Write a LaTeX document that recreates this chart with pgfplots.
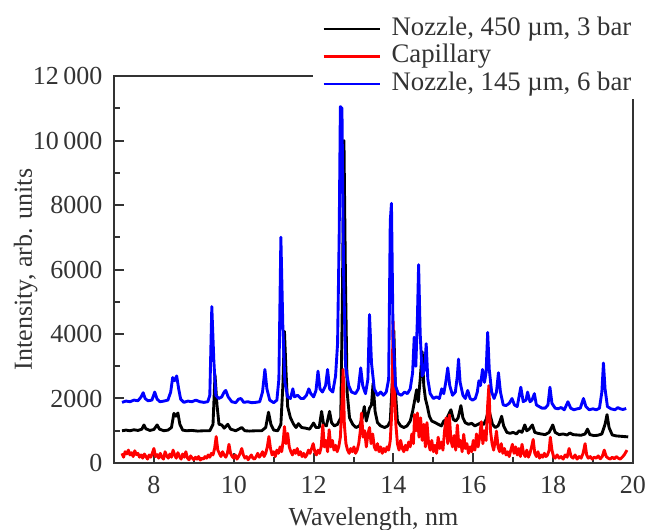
\documentclass[border=0pt]{standalone}
\usepackage{fontspec}
\setmainfont{Liberation Serif}
\usepackage{pgfplots}
\pgfplotsset{compat=1.18}

\definecolor{axgray}{RGB}{51,51,51}

\begin{document}
\fontsize{10.4}{12}\selectfont
\begin{tikzpicture}[font=\fontsize{10.4}{12}\selectfont]
\useasboundingbox (-45.6pt,-26.8pt) rectangle (214.8pt,185.2pt);
\begin{axis}[
  at={(0,0)}, anchor=south west,
  scale only axis,
  width=207.6pt, height=154.8pt,
  xmin=7, xmax=20, ymin=0, ymax=12000,
  xtick={8,10,...,20}, ytick={0,2000,...,12000},
  minor x tick num=1, minor y tick num=1,
  tick pos=left, tick align=inside,
  major tick length=4pt, minor tick length=2.5pt,
  axis line style={axgray, line width=1pt},
  tick style={axgray, line width=0.8pt},
  scaled y ticks=false,
  /pgf/number format/assume math mode=true,
  yticklabel style={/pgf/number format/1000 sep={\,},
    /pgf/number format/min exponent for 1000 sep=4, xshift=-1pt},
  tick label style={text=axgray},
  xticklabel style={yshift=-1.5pt},
  xlabel={Wavelength, nm},
  ylabel={Intensity, arb. units},
  xlabel style={at={(axis description cs:0.5,-0.162)}, anchor=base, text=axgray},
  ylabel style={at={(axis description cs:-0.158,0.5)}, anchor=base, text=axgray},
  legend cell align=left,
  legend style={at={(rel axis cs:1.017,1.163)}, anchor=north east, fill=white, draw=none,
    inner xsep=4pt, inner ysep=1pt, row sep=0.6pt, column sep=4pt, text=axgray,
    font=\fontsize{10.7}{12}\selectfont,
    nodes={inner sep=0pt, text height=0.75em, text depth=0.25em}},
  legend image code/.code={\draw[#1, line width=0.9pt] (0pt,0pt) -- (22.7pt,0pt);},
  every axis plot/.append style={line width=1.15pt, line join=round},
]

% Nozzle, 450 um, 3 bar
\addplot[black] coordinates {
(7.20,1000) (7.30,1020) (7.40,1000) (7.50,1030) (7.60,1010) (7.70,1050) (7.75,1180) (7.80,1060)
(7.90,1010) (8.00,1040) (8.08,1180) (8.14,1050) (8.25,1000) (8.35,1020) (8.44,1100) (8.50,1540)
(8.55,1450) (8.60,1550) (8.65,1200) (8.72,1020) (8.82,1000) (8.95,1010) (9.10,990) (9.25,1000)
(9.40,1000) (9.48,1200) (9.53,2730) (9.58,1800) (9.63,1200) (9.70,1180) (9.76,1080) (9.85,1200)
(9.92,1050) (10.05,1000) (10.20,1100) (10.28,1000) (10.40,990) (10.55,1000) (10.70,1000) (10.80,1100)
(10.87,1575) (10.93,1200) (11.00,1020) (11.10,1000) (11.18,1200) (11.23,2400) (11.27,4080) (11.31,2800)
(11.35,1750) (11.42,1400) (11.50,1200) (11.56,1100) (11.62,1220) (11.70,1100) (11.80,1080) (11.90,1050)
(12.00,1240) (12.06,1100) (12.14,1100) (12.20,1600) (12.25,1200) (12.32,1150) (12.40,1600) (12.45,1250)
(12.52,1150) (12.60,1200) (12.68,1400) (12.72,5000) (12.76,10000) (12.80,5500) (12.84,2200) (12.90,1400)
(12.98,1200) (13.06,1100) (13.15,1150) (13.22,1400) (13.27,1750) (13.32,1300) (13.40,1700) (13.45,1800)
(13.49,2470) (13.54,1600) (13.60,1250) (13.68,1150) (13.78,1100) (13.86,1150) (13.92,1300) (13.97,2500)
(14.01,4100) (14.05,2200) (14.10,1300) (14.18,1150) (14.26,1100) (14.34,1150) (14.42,1300) (14.48,1600)
(14.54,2000) (14.58,2270) (14.62,1900) (14.67,2600) (14.72,3450) (14.76,2400) (14.80,2000) (14.85,1750)
(14.90,1450) (14.96,1300) (15.05,1250) (15.12,1200) (15.20,1150) (15.26,1300) (15.32,1350) (15.38,1500)
(15.44,1650) (15.50,1350) (15.56,1300) (15.62,1400) (15.69,1780) (15.74,1400) (15.80,1250) (15.88,1200)
(15.96,1230) (16.04,1150) (16.12,1200) (16.20,1250) (16.26,1200) (16.32,1350) (16.38,1650) (16.42,1500)
(16.48,1200) (16.55,1100) (16.62,1150) (16.67,1300) (16.71,1450) (16.76,1150) (16.84,950) (16.92,920)
(17.00,950) (17.08,900) (17.15,1000) (17.22,950) (17.29,1180) (17.34,1000) (17.40,1050) (17.48,1180)
(17.54,950) (17.62,920) (17.70,900) (17.80,880) (17.90,950) (17.99,1180) (18.05,950) (18.15,880)
(18.25,900) (18.35,870) (18.42,930) (18.50,880) (18.60,870) (18.70,860) (18.80,900) (18.86,1050)
(18.92,880) (19.02,850) (19.12,860) (19.22,900) (19.30,1200) (19.35,1500) (19.40,1100) (19.48,870)
(19.58,840) (19.68,830) (19.78,820) (19.88,810)
};
\addlegendentry{Nozzle, 450 µm, 3 bar}

% Capillary
\addplot[red] coordinates {
(7.20,300) (7.24,180) (7.28,350) (7.32,280) (7.36,400) (7.40,250) (7.44,320) (7.48,200)
(7.52,380) (7.56,260) (7.60,300) (7.64,180) (7.68,250) (7.72,150) (7.76,280) (7.80,200)
(7.84,120) (7.88,250) (7.92,180) (7.96,300) (8.00,450) (8.04,200) (8.08,260) (8.12,150)
(8.16,300) (8.20,180) (8.24,120) (8.28,350) (8.32,220) (8.36,150) (8.40,280) (8.44,180)
(8.48,400) (8.52,250) (8.56,150) (8.60,320) (8.64,200) (8.68,120) (8.72,280) (8.76,180)
(8.80,350) (8.84,150) (8.88,100) (8.92,220) (8.96,150) (9.00,100) (9.04,180) (9.08,120)
(9.12,200) (9.16,90) (9.20,150) (9.24,120) (9.28,200) (9.32,150) (9.36,250) (9.40,180)
(9.44,300) (9.48,250) (9.52,450) (9.56,820) (9.60,400) (9.64,300) (9.68,200) (9.72,350)
(9.76,250) (9.80,180) (9.84,300) (9.88,580) (9.92,300) (9.96,200) (10.00,150) (10.04,250)
(10.08,120) (10.12,200) (10.16,300) (10.20,450) (10.24,250) (10.28,150) (10.32,200) (10.36,100)
(10.40,180) (10.44,250) (10.48,150) (10.52,120) (10.56,200) (10.60,300) (10.64,180) (10.68,250)
(10.72,350) (10.76,200) (10.80,300) (10.84,500) (10.88,820) (10.92,450) (10.96,250) (11.00,350)
(11.04,200) (11.08,400) (11.12,300) (11.16,500) (11.20,350) (11.24,700) (11.27,1130) (11.31,600)
(11.35,920) (11.39,500) (11.43,350) (11.47,250) (11.51,400) (11.55,300) (11.59,450) (11.63,250)
(11.67,350) (11.71,200) (11.75,300) (11.79,180) (11.83,250) (11.87,400) (11.91,300) (11.95,450)
(11.99,600) (12.03,350) (12.07,250) (12.11,400) (12.15,300) (12.19,500) (12.23,1180) (12.27,500)
(12.31,700) (12.35,350) (12.39,1030) (12.43,500) (12.47,700) (12.51,400) (12.55,550) (12.59,350)
(12.63,500) (12.67,800) (12.71,1800) (12.74,2900) (12.77,1200) (12.81,600) (12.85,400) (12.89,300)
(12.93,450) (12.97,350) (13.01,500) (13.05,300) (13.09,400) (13.13,600) (13.17,1000) (13.20,1550)
(13.24,800) (13.28,1000) (13.32,500) (13.36,900) (13.40,1100) (13.44,600) (13.48,900) (13.52,500)
(13.56,400) (13.60,600) (13.64,350) (13.68,500) (13.72,300) (13.76,450) (13.80,350) (13.84,500)
(13.88,400) (13.92,700) (13.96,1600) (13.99,4400) (14.02,2500) (14.06,1200) (14.10,600) (14.14,400)
(14.18,700) (14.22,450) (14.26,350) (14.30,550) (14.34,400) (14.38,650) (14.42,500) (14.46,900)
(14.50,600) (14.53,1500) (14.57,1000) (14.60,1550) (14.64,800) (14.68,1400) (14.72,700) (14.76,1200)
(14.80,500) (14.84,1250) (14.88,600) (14.92,400) (14.96,700) (15.00,350) (15.04,550) (15.08,300)
(15.12,800) (15.16,450) (15.20,650) (15.24,400) (15.28,1000) (15.32,1400) (15.36,600) (15.40,1490)
(15.44,700) (15.48,500) (15.52,850) (15.56,400) (15.60,1180) (15.64,500) (15.68,700) (15.72,350)
(15.76,890) (15.80,450) (15.84,600) (15.88,300) (15.92,500) (15.96,350) (16.00,700) (16.04,400)
(16.08,900) (16.12,500) (16.16,800) (16.20,1280) (16.24,600) (16.28,1000) (16.32,700) (16.36,1800)
(16.39,2400) (16.43,1000) (16.47,600) (16.51,400) (16.55,700) (16.58,990) (16.62,500) (16.66,350)
(16.70,600) (16.74,300) (16.78,450) (16.82,250) (16.86,350) (16.90,200) (16.94,400) (16.98,580)
(17.02,300) (17.06,500) (17.10,250) (17.14,450) (17.18,200) (17.22,580) (17.26,300) (17.30,200)
(17.34,400) (17.38,180) (17.42,300) (17.46,500) (17.50,730) (17.54,300) (17.58,200) (17.62,350)
(17.66,150) (17.70,250) (17.74,180) (17.78,300) (17.82,200) (17.86,250) (17.90,400) (17.93,800)
(17.97,400) (18.01,200) (18.05,150) (18.10,250) (18.15,150) (18.20,200) (18.25,120) (18.30,250)
(18.35,180) (18.40,450) (18.45,200) (18.50,150) (18.55,250) (18.60,120) (18.65,200) (18.70,150)
(18.75,300) (18.80,600) (18.84,250) (18.88,150) (18.93,200) (18.98,120) (19.03,180) (19.08,150)
(19.13,220) (19.18,130) (19.23,200) (19.28,400) (19.33,200) (19.38,150) (19.43,120) (19.48,180)
(19.53,130) (19.58,200) (19.63,150) (19.68,120) (19.73,180) (19.78,250) (19.85,400)
};
\addlegendentry{Capillary}

% Nozzle, 145 um, 6 bar
\addplot[blue] coordinates {
(7.20,1880) (7.30,1920) (7.40,1900) (7.50,1950) (7.60,1930) (7.68,2050) (7.73,2180) (7.78,2000)
(7.85,1930) (7.95,1950) (8.02,2200) (8.08,1980) (8.15,1900) (8.25,1920) (8.35,1950) (8.42,2200)
(8.47,2650) (8.52,2550) (8.57,2700) (8.62,2300) (8.67,1980) (8.75,1880) (8.85,1920) (8.95,1900)
(9.05,1950) (9.15,1900) (9.25,1880) (9.35,1900) (9.40,2100) (9.45,4850) (9.50,3200) (9.55,2100)
(9.62,2000) (9.70,2050) (9.76,2200) (9.80,2250) (9.86,2050) (9.95,1900) (10.05,1870) (10.12,1980)
(10.18,2000) (10.25,1880) (10.35,1900) (10.45,1870) (10.55,1880) (10.65,1900) (10.72,2200) (10.78,2900)
(10.83,2300) (10.90,1950) (11.00,1870) (11.08,1950) (11.13,2600) (11.18,7000) (11.23,4200) (11.28,2500)
(11.35,2050) (11.42,2000) (11.48,2300) (11.52,2050) (11.60,2100) (11.68,2000) (11.75,2000) (11.82,2100)
(11.88,2300) (11.93,2150) (12.00,2050) (12.06,2250) (12.11,2850) (12.16,2300) (12.22,2200) (12.30,2400)
(12.35,2900) (12.40,2300) (12.48,2200) (12.55,2700) (12.60,3700) (12.64,7000) (12.67,11050) (12.71,11000)
(12.75,6000) (12.80,3000) (12.88,2400) (12.95,2200) (13.05,2150) (13.12,2300) (13.18,2950) (13.23,2400)
(13.30,2150) (13.36,2600) (13.40,4600) (13.45,3100) (13.52,2300) (13.60,2100) (13.68,2200) (13.75,2100)
(13.82,2200) (13.88,2600) (13.92,7500) (13.95,8050) (13.99,4000) (14.05,2400) (14.12,2150) (14.20,2100)
(14.28,2200) (14.35,2150) (14.42,2300) (14.48,2800) (14.52,3900) (14.56,3000) (14.60,4500) (14.63,6150)
(14.67,4000) (14.72,2700) (14.78,2900) (14.82,3700) (14.86,2600) (14.92,2150) (15.00,2000) (15.08,2050)
(15.15,2000) (15.21,2300) (15.26,2150) (15.31,2500) (15.36,2950) (15.41,2400) (15.48,2100) (15.55,2200)
(15.60,2700) (15.63,3220) (15.67,2500) (15.74,2100) (15.80,2000) (15.86,2250) (15.92,2000) (15.98,1950)
(16.05,2000) (16.10,2200) (16.14,2550) (16.18,2400) (16.23,2900) (16.28,2500) (16.32,2800) (16.36,4050)
(16.40,2900) (16.46,2200) (16.52,2000) (16.58,2200) (16.63,2800) (16.68,2200) (16.75,1800) (16.82,1780)
(16.90,1850) (16.97,2000) (17.03,1800) (17.10,1750) (17.19,2350) (17.25,1900) (17.32,1950) (17.36,2200)
(17.42,1900) (17.47,1950) (17.53,2150) (17.58,1800) (17.65,1750) (17.72,1700) (17.80,1700) (17.87,1800)
(17.92,2350) (17.97,1850) (18.05,1700) (18.12,1680) (18.20,1720) (18.28,1650) (18.37,1900) (18.44,1700)
(18.52,1650) (18.60,1680) (18.68,1700) (18.76,2000) (18.82,1750) (18.90,1650) (19.00,1680) (19.08,1650)
(19.16,1700) (19.22,2200) (19.26,3100) (19.30,2300) (19.36,1750) (19.45,1680) (19.55,1650) (19.62,1720)
(19.68,1680) (19.75,1660) (19.83,1690)
};
\addlegendentry{Nozzle, 145 µm, 6 bar}

\end{axis}
\end{tikzpicture}
\end{document}
